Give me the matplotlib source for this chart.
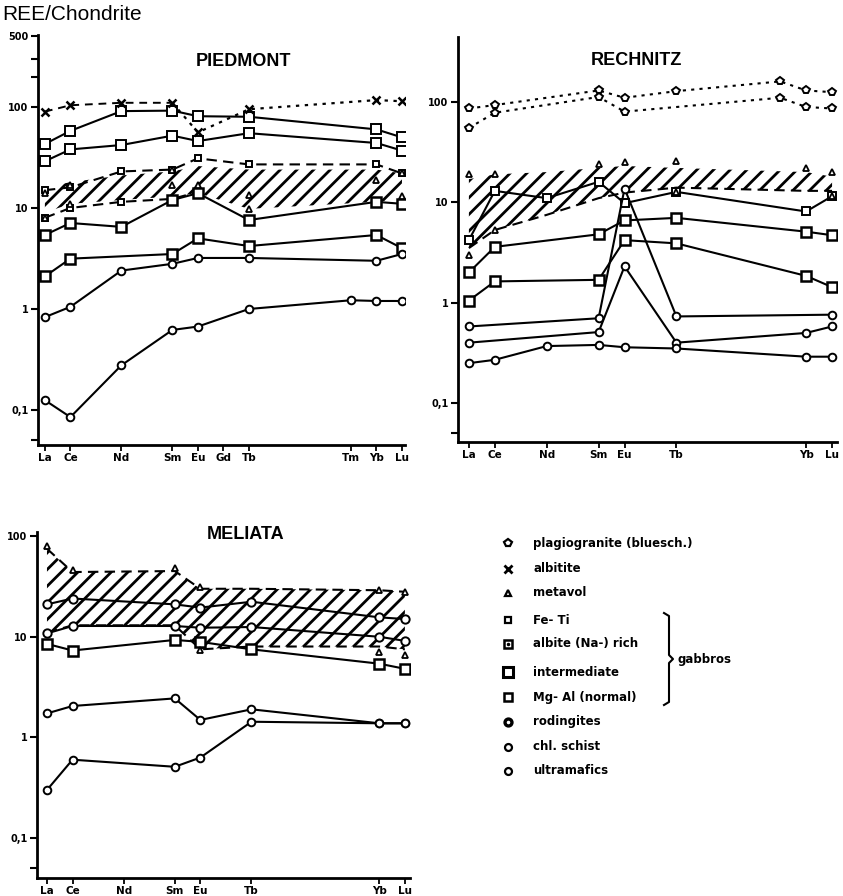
import matplotlib
matplotlib.use("Agg")
import matplotlib.pyplot as plt
from matplotlib.ticker import FixedLocator, NullLocator, NullFormatter

plt.rcParams['font.family'] = ['Liberation Sans', 'DejaVu Sans']
plt.rcParams['hatch.linewidth'] = 2.0
plt.rcParams['hatch.color'] = 'black'

W, H = 843, 896

# atomic numbers used as x positions
ree_z = {'La': 57, 'Ce': 58, 'Nd': 60, 'Sm': 62, 'Eu': 63, 'Gd': 64,
         'Tb': 65, 'Tm': 69, 'Yb': 70, 'Lu': 71}

# ---------------- PIEDMONT ----------------
pied_ticks = ['La', 'Ce', 'Nd', 'Sm', 'Eu', 'Gd', 'Tb', 'Tm', 'Yb', 'Lu']
pied_el8 = ['La', 'Ce', 'Nd', 'Sm', 'Eu', 'Tb', 'Yb', 'Lu']
pied_albitite = [90, 104, 110, 110, 56, 95, 117, 114]
pied_feti_a = [43, 58, 91, 92, 81, 80, 60, 50]
pied_feti_b = [29, 38, 42, 52, 46, 55, 44, 37]
pied_dash_up = [15, 16, 23, 24, 31, 27, 27, 22]
pied_dash_lo_el = ['La', 'Ce', 'Nd', 'Sm', 'Eu']
pied_dash_lo = [8, 10, 11.5, 12.3, 14.4]
pied_inter = [5.4, 7.1, 6.5, 12, 14, 7.6, 11.5, 11]
pied_mgal_el = ['La', 'Ce', 'Sm', 'Eu', 'Tb', 'Yb', 'Lu']
pied_mgal = [2.1, 3.15, 3.5, 5.0, 4.2, 5.4, 4.0]
pied_rod = [0.83, 1.05, 2.4, 2.8, 3.2, 3.2, 3.0, 3.5]
pied_ultra_el = ['La', 'Ce', 'Nd', 'Sm', 'Eu', 'Tb', 'Tm', 'Yb', 'Lu']
pied_ultra = [0.125, 0.085, 0.277, 0.62, 0.67, 1.0, 1.22, 1.2, 1.2]
pied_band_up = [16, 18, 21, 23, 26, 24, 24, 22]
pied_band_lo = [9, 11, 12, 13, 14, 9.8, 11.5, 12]
pied_mv_el = ['La', 'La', 'Ce', 'Ce', 'Sm', 'Sm', 'Eu', 'Tb', 'Tb', 'Yb', 'Lu', 'Lu']
pied_mv = [14, 8, 17, 11, 24, 17, 17, 9.8, 13.4, 19, 22, 13]

# ---------------- RECHNITZ ----------------
rech_ticks = ['La', 'Ce', 'Nd', 'Sm', 'Eu', 'Tb', 'Yb', 'Lu']
rech_plag_a_el = ['La', 'Ce', 'Sm', 'Eu', 'Tb', 'Tm', 'Yb', 'Lu']
rech_plag_a = [86, 93, 130, 110, 128, 160, 130, 125]
rech_plag_b_el = ['La', 'Ce', 'Sm', 'Eu', 'Tm', 'Yb', 'Lu']
rech_plag_b = [55, 78, 112, 80, 110, 89, 86]
rech_band_el = ['La', 'Ce', 'Nd', 'Sm', 'Eu', 'Tb', 'Yb', 'Lu']
rech_band_up = [17, 19, 20, 22, 23, 22, 20, 18]
rech_band_lo = [3.5, 5.3, 7.5, 11, 12.5, 14, 13, 13]
rech_gab_el = ['La', 'Ce', 'Nd', 'Sm', 'Eu', 'Tb', 'Yb', 'Lu']
rech_gab = [4.2, 13, 11, 16, 9.8, 12.7, 8.1, 11.5]
rech_mv_el = ['La', 'Ce', 'Sm', 'Eu', 'Tb', 'Yb', 'Lu', 'La', 'Ce', 'Tb', 'Lu']
rech_mv = [19, 19, 24, 25, 26, 22, 20, 3.0, 5.3, 12.7, 11.5]
rech_el7 = ['La', 'Ce', 'Sm', 'Eu', 'Tb', 'Yb', 'Lu']
rech_inter = [2.0, 3.6, 4.8, 6.6, 7.0, 5.1, 4.7]
rech_mgal = [1.05, 1.63, 1.69, 4.2, 3.9, 1.85, 1.43]
rech_rod_el = ['La', 'Sm', 'Eu', 'Tb', 'Lu']
rech_rod = [0.58, 0.70, 13.7, 0.73, 0.76]
rech_chl_el = ['La', 'Sm', 'Eu', 'Tb', 'Yb', 'Lu']
rech_chl = [0.40, 0.51, 2.3, 0.40, 0.50, 0.58]
rech_ultra_el = ['La', 'Ce', 'Nd', 'Sm', 'Eu', 'Tb', 'Yb', 'Lu']
rech_ultra = [0.25, 0.27, 0.37, 0.38, 0.36, 0.35, 0.29, 0.29]

# ---------------- MELIATA ----------------
mel_ticks = ['La', 'Ce', 'Nd', 'Sm', 'Eu', 'Tb', 'Yb', 'Lu']
mel_el = ['La', 'Ce', 'Sm', 'Eu', 'Tb', 'Yb', 'Lu']
mel_band_up = [75, 44, 45, 30, 30, 29, 28]
mel_band_lo = [11, 13, 13, 7.5, 8, 8, 7.5]
mel_mv_el = ['La', 'Ce', 'Sm', 'Eu', 'Yb', 'Lu', 'Eu', 'Yb', 'Lu']
mel_mv = [80, 46, 48, 31, 29, 28, 7.4, 7.1, 6.6]
mel_a = [21, 24, 21, 19.5, 22.3, 15.6, 15]
mel_b = [10.8, 12.8, 12.8, 12.3, 12.5, 10, 9.1]
mel_c = [8.5, 7.3, 9.3, 8.9, 7.5, 5.4, 4.8]
mel_d = [1.73, 2.05, 2.44, 1.49, 1.9, 1.38, 1.38]
mel_e = [0.30, 0.6, 0.51, 0.63, 1.43, 1.38, 1.38]

leg_labels = ['plagiogranite (bluesch.)', 'albitite', 'metavol', 'Fe- Ti',
              'albite (Na-) rich', 'intermediate', 'Mg- Al (normal)',
              'rodingites', 'chl. schist', 'ultramafics']


def zx(els):
    return [ree_z[e] for e in els]


def px_axes(l, t, r, b):
    return fig.add_axes([l / W, 1 - b / H, (r - l) / W, (b - t) / H])


def line(ax, els, vals, marker='o', ls='-', ms=6, mew=1.4):
    ax.plot(zx(els), vals, ls=ls, color='black', lw=1.5, marker=marker,
            ms=ms, mfc='white', mec='black', mew=mew, zorder=3)


def band(ax, els, lo, up, dashed_up=True, dashed_lo=True):
    ax.fill_between(zx(els), lo, up, facecolor='none', edgecolor='black',
                    hatch='//', linewidth=0, zorder=1)
    if dashed_up:
        ax.plot(zx(els), up, ls=(0, (5, 3)), color='black', lw=1.5, zorder=2)
    if dashed_lo:
        ax.plot(zx(els), lo, ls=(0, (5, 3)), color='black', lw=1.5, zorder=2)


def style(ax, ticks, ylim, xlim, majors, labels, minors):
    ax.set_yscale('log')
    ax.set_ylim(*ylim)
    ax.set_xlim(*xlim)
    for s in ['top', 'right']:
        ax.spines[s].set_visible(False)
    ax.spines['left'].set_linewidth(2)
    ax.spines['bottom'].set_linewidth(2)
    ax.yaxis.set_major_locator(FixedLocator(majors))
    ax.set_yticklabels(labels, fontsize=7, fontweight='bold', family='DejaVu Sans')
    ax.yaxis.set_minor_locator(FixedLocator(minors))
    ax.yaxis.set_minor_formatter(NullFormatter())
    ax.tick_params(axis='y', which='both', direction='out', length=5, width=1.5, pad=2)
    ax.set_xticks(zx(ticks))
    ax.set_xticklabels(ticks, fontsize=7.5, fontweight='bold', family='DejaVu Sans')
    ax.tick_params(axis='x', direction='out', length=4, width=1.3, pad=2)
    ax.xaxis.set_minor_locator(NullLocator())


fig = plt.figure(figsize=(W / 100, H / 100), dpi=100)

# PIEDMONT
ax1 = px_axes(38, 35, 405, 445)
band(ax1, pied_el8, pied_band_lo, pied_band_up, dashed_up=False, dashed_lo=False)
ax1.plot(zx(pied_el8[:4]), pied_albitite[:4], ls=(0, (4, 3)), color='black', lw=1.4, zorder=3)
ax1.plot(zx(pied_el8[3:]), pied_albitite[3:], ls=(0, (1.5, 2.5)), color='black', lw=1.6, zorder=3)
ax1.plot(zx(pied_el8), pied_albitite, ls='none', marker='x', ms=6, mew=1.8, color='black', zorder=4)
line(ax1, pied_el8, pied_feti_a, marker='s', ms=7)
line(ax1, pied_el8, pied_feti_b, marker='s', ms=7)
line(ax1, pied_el8, pied_dash_up, marker='s', ls=(0, (5, 3)), ms=4.5)
line(ax1, pied_dash_lo_el, pied_dash_lo, marker='s', ls=(0, (5, 3)), ms=4.5)
line(ax1, pied_el8, pied_inter, marker='s', ms=7, mew=1.8)
line(ax1, pied_mgal_el, pied_mgal, marker='s', ms=7, mew=1.8)
line(ax1, pied_el8, pied_rod, marker='o', ms=5.5)
line(ax1, pied_ultra_el, pied_ultra, marker='o', ms=5.5)
ax1.plot(zx(pied_mv_el), pied_mv, ls='none', marker='^', ms=5, mfc='white', mec='black', mew=1.3, zorder=4)
style(ax1, pied_ticks, (0.045, 516), (56.73, 71.12),
      [0.1, 1, 10, 100, 500], ['0,1', '1', '10', '100', '500'], [0.05, 200, 300])
ax1.set_title('PIEDMONT', fontsize=13, fontweight='bold', pad=-22, y=1.0, x=0.56)

# RECHNITZ
ax2 = px_axes(458, 37, 837, 442)
band(ax2, rech_band_el, rech_band_lo, rech_band_up, dashed_up=False, dashed_lo=True)
line(ax2, rech_plag_a_el, rech_plag_a, marker='p', ls=(0, (1.5, 2.5)), ms=5.5)
line(ax2, rech_plag_b_el, rech_plag_b, marker='p', ls=(0, (1.5, 2.5)), ms=5.5)
line(ax2, rech_gab_el, rech_gab, marker='s', ms=6)
line(ax2, rech_el7, rech_inter, marker='s', ms=7, mew=1.8)
line(ax2, rech_el7, rech_mgal, marker='s', ms=7, mew=1.8)
line(ax2, rech_rod_el, rech_rod, marker='o', ms=5.5)
line(ax2, rech_chl_el, rech_chl, marker='o', ms=5.5)
line(ax2, rech_ultra_el, rech_ultra, marker='o', ms=5.5)
ax2.plot(zx(rech_mv_el), rech_mv, ls='none', marker='^', ms=5, mfc='white', mec='black', mew=1.3, zorder=4)
style(ax2, rech_ticks, (0.041, 443), (56.58, 71.19),
      [0.1, 1, 10, 100], ['0,1', '1', '10', '100'], [0.05])
ax2.set_title('RECHNITZ', fontsize=13, fontweight='bold', pad=-20, y=1.0, x=0.47)

# MELIATA
ax3 = px_axes(37, 532, 410, 878)
band(ax3, mel_el, mel_band_lo, mel_band_up, dashed_up=True, dashed_lo=True)
line(ax3, mel_el, mel_a, marker='o', ms=6)
line(ax3, mel_el, mel_b, marker='o', ms=6)
line(ax3, mel_el, mel_c, marker='s', ms=7, mew=1.8)
line(ax3, mel_el, mel_d, marker='o', ms=5.5)
line(ax3, mel_el, mel_e, marker='o', ms=5.5)
ax3.plot(zx(mel_mv_el), mel_mv, ls='none', marker='^', ms=5, mfc='white', mec='black', mew=1.3, zorder=4)
style(ax3, mel_ticks, (0.040, 110), (56.61, 71.2),
      [0.1, 1, 10, 100], ['0,1', '1', '10', '100'], [0.05])
ax3.set_title('MELIATA', fontsize=13, fontweight='bold', pad=-5, y=1.0, x=0.56)

fig.text(2 / W, 1 - 15 / H, 'REE/Chondrite', fontsize=15, va='center', ha='left')

# legend (pixel overlay)
lg = fig.add_axes([0, 0, 1, 1])
lg.set_xlim(0, W)
lg.set_ylim(H, 0)
lg.axis('off')
leg_y = [543, 569, 593, 620, 644, 672, 697, 722, 747, 771]
leg_mk = ['p', 'x', '^', 's', 's', 's', 's', 'o', 'o', 'o']
leg_ms = [6, 6, 5, 5, 6, 6.5, 6, 5, 5, 5]
leg_mew = [1.6, 2, 1.6, 1.6, 1.8, 2.2, 1.8, 2.4, 1.6, 1.6]
for yy, mk, ms, mew, lab in zip(leg_y, leg_mk, leg_ms, leg_mew, leg_labels):
    lg.plot([508], [yy], marker=mk, ms=ms, mfc='white', mec='black', mew=mew, color='black')
    lg.text(533, yy, lab, fontsize=8.5, fontweight='bold', family='DejaVu Sans',
            va='center', ha='left')
lg.plot([508], [644], marker='.', ms=3, color='black')
lg.plot([664, 669, 669, 673, 669, 669, 664], [613, 616, 655, 659, 663, 702, 705],
        color='black', lw=1.5)
lg.text(677, 659, 'gabbros', fontsize=8.5, fontweight='bold', family='DejaVu Sans',
        va='center', ha='left')

fig.savefig('out.png', dpi=100)
